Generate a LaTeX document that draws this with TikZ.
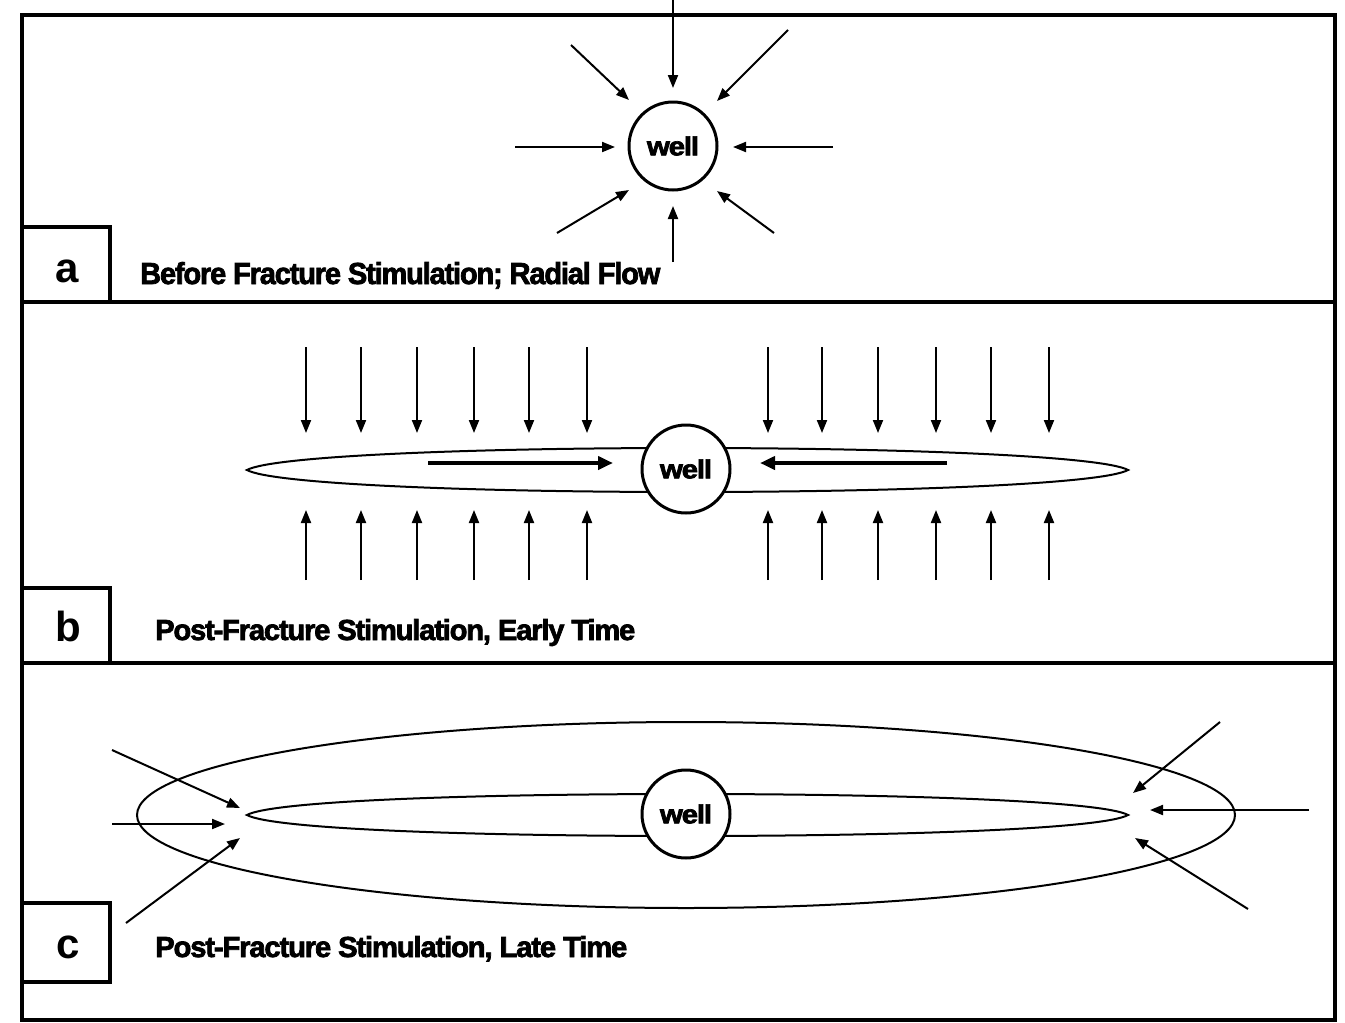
\documentclass[tikz,border=0pt]{standalone}
\usepackage{fontspec}
\setmainfont{Liberation Sans}
\newfontfamily\heavyfont[FakeBold=2.5,LetterSpace=-4]{Liberation Sans Bold}
\usepackage{graphicx}
\usetikzlibrary{arrows.meta}
\begin{document}
\begin{tikzpicture}[x=1pt,y=-1pt,
  frame/.style={line width=4.5pt},
  thinarrow/.style={line width=2pt,-{Triangle[length=13pt,width=10pt]}},
  thickarrow/.style={line width=4.5pt,-{Triangle[length=15pt,width=13pt]}},
  wellnode/.style={circle,draw,line width=3pt,fill=white,minimum size=88pt,inner sep=0pt},
  lens/.style={line width=2pt},
  lab/.style={font=\fontsize{42}{42}\selectfont\bfseries,anchor=base,inner sep=0pt},
  caption/.style={anchor=base west,inner sep=0pt}]
\useasboundingbox (0,0) rectangle (1345,1023);
\fill[white] (0,0) rectangle (1345,1023);
% frame
\draw[frame] (22,15) rectangle (1335,1020);
\draw[frame] (22,302) -- (1335,302);
\draw[frame] (22,663) -- (1335,663);
% label boxes
\draw[frame] (22,227) rectangle (110,302);
\draw[frame] (22,588) rectangle (110,663);
\draw[frame] (22,903) rectangle (110,982);
\node[lab] (la) at (67,282) {a};
\node[lab] (lb) at (68,641) {b};
\node[lab] (lc) at (68,958) {c};
% captions
\node[caption] (ca) at (140,284) {\resizebox{520pt}{22pt}{\heavyfont Before Fracture Stimulation; Radial Flow}};
\node[caption] (cb) at (155,640) {\resizebox{480pt}{21pt}{\heavyfont Post-Fracture Stimulation, Early Time}};
\node[caption] (cc) at (155,957) {\resizebox{472pt}{21pt}{\heavyfont Post-Fracture Stimulation, Late Time}};
% ---------- panel a ----------
\node[wellnode] (wa) at (673,146) {\resizebox{52pt}{19pt}{\heavyfont well}};
\foreach \n/\sx/\sy/\ex/\ey in {1/673/0/673/88, 2/571/45/629/100, 3/788/30/717/101, 4/515/147/615/147,
  5/833/147/733/147, 6/557/233/629/190, 7/774/233/717/191, 8/673/262/673/206}{
  \coordinate (as\n) at (\sx,\sy);
  \coordinate (ae\n) at (\ex,\ey);
  \draw[thinarrow] (as\n) -- (ae\n);
}
% ---------- panel b ----------
\draw[lens] (247,470) .. controls (272,456) and (470,448) .. (686,448)
  .. controls (902,448) and (1103,456) .. (1128,470)
  .. controls (1103,484) and (902,492) .. (686,492)
  .. controls (470,492) and (272,484) .. (247,470) -- cycle;
\foreach \x in {306,361,417,474,529,587,768,822,878,936,991,1049}{
  \coordinate (bd\x) at (\x,347); \coordinate (bde\x) at (\x,433);
  \coordinate (bu\x) at (\x,580); \coordinate (bue\x) at (\x,510);
  \draw[thinarrow] (bd\x) -- (bde\x);
  \draw[thinarrow] (bu\x) -- (bue\x);
}
\coordinate (bl1) at (428,463); \coordinate (bl2) at (613,463);
\coordinate (br1) at (947,463); \coordinate (br2) at (760,463);
\draw[thickarrow] (bl1) -- (bl2);
\draw[thickarrow] (br1) -- (br2);
\node[wellnode] (wb) at (686,469) {\resizebox{52pt}{19pt}{\heavyfont well}};
% ---------- panel c ----------
\draw[lens] (686,815) ellipse [x radius=549pt, y radius=93pt];
\draw[lens] (247,815) .. controls (272,801) and (470,794) .. (686,794)
  .. controls (902,794) and (1103,801) .. (1128,815)
  .. controls (1103,829) and (902,836) .. (686,836)
  .. controls (470,836) and (272,829) .. (247,815) -- cycle;
\foreach \n/\sx/\sy/\ex/\ey in {1/112/750/240/808, 2/112/824/225/824, 3/126/923/240/838,
  4/1220/722/1133/793, 5/1309/810/1150/810, 6/1248/909/1135/838}{
  \coordinate (cs\n) at (\sx,\sy);
  \coordinate (ce\n) at (\ex,\ey);
  \draw[thinarrow] (cs\n) -- (ce\n);
}
\node[wellnode] (wc) at (686,814) {\resizebox{52pt}{19pt}{\heavyfont well}};
\end{tikzpicture}
\end{document}
